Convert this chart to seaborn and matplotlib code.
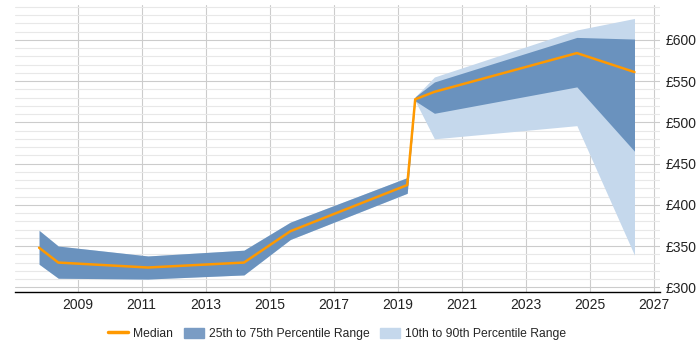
import numpy as np
import pandas as pd
import matplotlib.pyplot as plt
import matplotlib.ticker as mticker
from matplotlib.patches import Patch
from matplotlib.lines import Line2D
import seaborn as sns

years = [2007.8, 2008.4, 2011.2, 2014.2, 2015.65, 2019.3, 2019.55, 2020.15, 2024.6, 2026.4]
median = [348, 330, 324, 330, 368, 424, 528, 537, 584, 561]
p25 = [328, 311, 310, 315, 358, 414, 526, 511, 543, 465]
p75 = [369, 350, 338, 345, 379, 433, 531, 549, 603, 601]
p10 = [328, 311, 310, 315, 358, 414, 526, 480, 496, 339]
p90 = [369, 350, 338, 345, 379, 433, 531, 555, 612, 626]


def generate_chart():
    df = pd.DataFrame({'Year': years, 'Median': median, 'P25': p25, 'P75': p75,
                       'P10': p10, 'P90': p90})
    sns.set_style("white")
    plt.rcParams['font.family'] = ['Liberation Sans', 'DejaVu Sans']

    fig, ax = plt.subplots(figsize=(7, 3.5), dpi=100)
    fig.subplots_adjust(left=0.022, right=0.943, top=0.985, bottom=0.165)

    ax.fill_between(df['Year'], df['P10'], df['P90'], color='#c5d8ec', lw=0, zorder=2)
    ax.fill_between(df['Year'], df['P25'], df['P75'], color='#5a86b6', alpha=0.85, lw=0, zorder=3)
    sns.lineplot(data=df, x='Year', y='Median', color='#ff9900', linewidth=1.8, ax=ax, zorder=4)

    ax.set_xlim(2007.06, 2027.2)
    ax.set_ylim(294, 642)
    ax.xaxis.set_major_locator(mticker.FixedLocator(range(2009, 2028, 2)))
    ax.yaxis.set_major_locator(mticker.MultipleLocator(50))
    ax.yaxis.set_minor_locator(mticker.MultipleLocator(10))
    ax.yaxis.set_major_formatter(mticker.FuncFormatter(lambda v, p: f'£{v:.0f}'))
    ax.yaxis.tick_right()
    ax.grid(True, which='major', color='#cccccc', linewidth=0.8)
    ax.grid(True, which='minor', axis='y', color='#e8e8e8', linewidth=0.8)
    ax.set_axisbelow(True)
    ax.tick_params(axis='both', which='both', length=0, labelsize=10, colors='#222222', pad=4)
    ax.set_xlabel('')
    ax.set_ylabel('')
    for s in ['top', 'left', 'right']:
        ax.spines[s].set_visible(False)
    ax.spines['bottom'].set_color('#000000')
    ax.spines['bottom'].set_linewidth(1)

    handles = [Line2D([0], [0], color='#ff9900', lw=2.5),
               Patch(color='#7a9cc4'),
               Patch(color='#c5d8ec')]
    labels = ['Median', '25th to 75th Percentile Range', '10th to 90th Percentile Range']
    fig.legend(handles, labels, loc='center', ncol=3, frameon=False,
               fontsize=8.7, bbox_to_anchor=(0.482, 0.046), handlelength=1.65,
               handleheight=1.0, handletextpad=0.4, columnspacing=0.9)

    fig.savefig('out.png')
    plt.close(fig)


if __name__ == "__main__":
    generate_chart()
